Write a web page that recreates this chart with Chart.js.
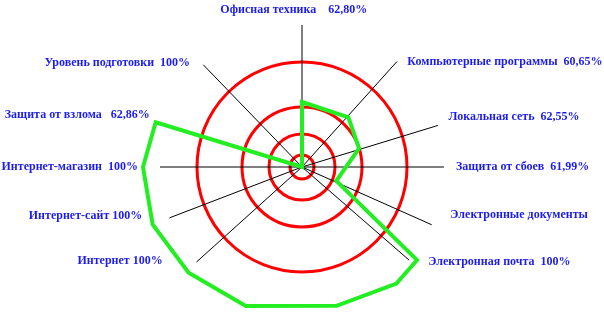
<!DOCTYPE html>
<html lang="ru">
<head>
<meta charset="UTF-8">
<title>Радарная диаграмма</title>
<script src="https://cdn.jsdelivr.net/npm/chart.js"></script>
<style>
  body { margin: 0; background: #fff; }
  canvas { display: block; }
</style>
</head>
<body>
<canvas id="radar" width="604" height="314"></canvas>
<script>
// подписи категорий
let categories = ['Офисная техника    62,80%', 'Компьютерные программы  60,65%', 'Локальная сеть  62,55%',
    'Защита от сбоев  61,99%', 'Электронные документы', 'Электронная почта  100%', 'Интернет 100%',
    'Интернет-сайт 100%', 'Интернет-магазин  100%', 'Защита от взлома   62,86%', 'Уровень подготовки  100%'];

// направления осей, градусы от верха по часовой
let spokeAngles = [0, 42, 73, 90, 114, 131, 228, 249, 270, 316];

// зелёная ломаная: направление и значение вершины
let seriesAngles = [0, 43, 72, 112, 129, 141, 166, 202, 227, 249, 270, 287, 316];
let seriesValues = [65, 68, 60, 37, 148, 150, 143, 150, 155, 160, 159, 153, 0];

// красные окружности
let rings = [12, 33, 60, 105];
let axisMax = 142;

// где стоят подписи: [градусы, расстояние от центра]
let labelPlace = [[357, 157], [45, 149], [71, 155], [90, 154], [108, 156], [127, 158],
    [236, 168], [253, 167], [270, 164], [289, 161], [313, 153]];

let slots = 360;
let slotLabels = new Array(slots).fill('');
let slotData = new Array(slots).fill(null);
seriesAngles.forEach((a, i) => slotData[a] = seriesValues[i]);
labelPlace.forEach((p, i) => slotLabels[p[0]] = categories[i]);

const spokeLabels = {
    id: 'spokeLabels',
    afterDraw(chart) {
        let r = chart.scales.r;
        let ctx = chart.ctx;
        ctx.save();
        ctx.font = 'bold 12px "Liberation Serif"';
        ctx.fillStyle = '#1c1cf0';
        ctx.textBaseline = 'middle';
        labelPlace.forEach(([deg, dist]) => {
            let p = r.getPointPosition(deg, dist);
            ctx.textAlign = (deg > 350 || deg < 10) ? 'center' : (deg < 180 ? 'left' : 'right');
            ctx.fillText(chart.data.labels[deg], p.x, p.y);
        });
        ctx.restore();
    }
};

new Chart(document.getElementById('radar'), {
    type: 'radar',
    data: {
        labels: slotLabels,
        datasets: [{
            data: slotData,
            spanGaps: true,
            borderColor: '#22ee22',
            borderWidth: 4,
            borderJoinStyle: 'miter',
            fill: false,
            pointRadius: 0,
            pointHitRadius: 0
        }]
    },
    options: {
        responsive: false,
        animation: false,
        layout: { padding: { top: 25, bottom: 5, left: 0, right: 0 } },
        plugins: { legend: { display: false }, tooltip: { enabled: false } },
        scales: {
            r: {
                min: 0,
                max: axisMax,
                startAngle: 0,
                afterBuildTicks: s => { s.ticks = [0].concat(rings).map(v => ({ value: v })); },
                ticks: { display: false },
                pointLabels: { display: false },
                grid: { circular: true, color: '#ff0000', lineWidth: 3 },
                angleLines: {
                    color: '#000000',
                    lineWidth: c => spokeAngles.includes(c.index) ? 1 : 0
                }
            }
        }
    },
    plugins: [spokeLabels]
});
</script>
</body>
</html>
